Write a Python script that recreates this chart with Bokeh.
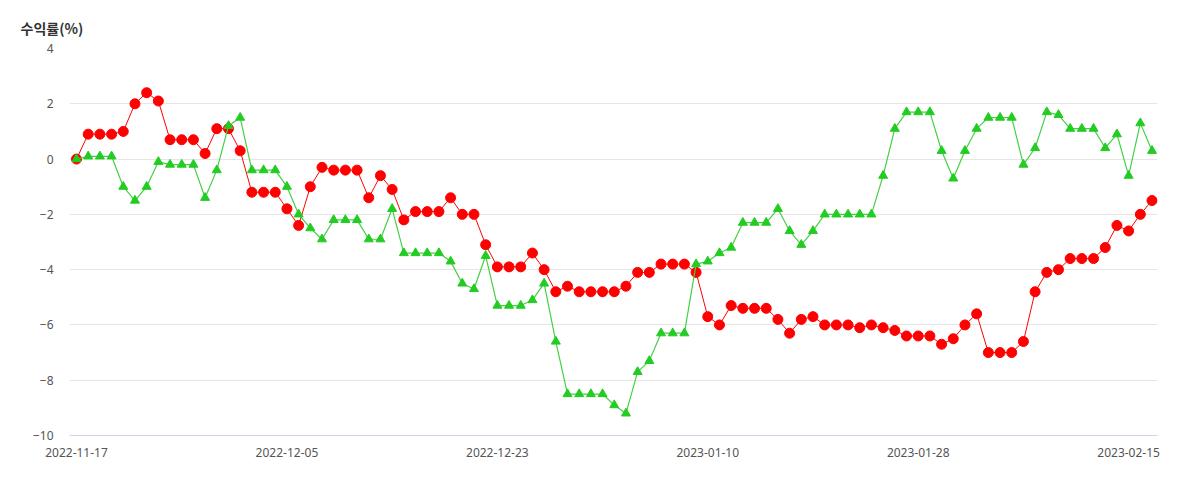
import pandas as pd
from bokeh.plotting import figure
from bokeh.models import Range1d, FixedTicker, DatetimeTickFormatter
from bokeh.embed import file_html
from bokeh.resources import INLINE

start_date = "2022-11-17"
n_days = 93
dates = pd.date_range(start_date, periods=n_days, freq="D")

red_values = [
    0.0, 0.9, 0.9, 0.9, 1.0, 2.0, 2.4, 2.1, 0.7, 0.7,
    0.7, 0.2, 1.1, 1.1, 0.3, -1.2, -1.2, -1.2, -1.8, -2.4,
    -1.0, -0.3, -0.4, -0.4, -0.4, -1.4, -0.6, -1.1, -2.2, -1.9,
    -1.9, -1.9, -1.4, -2.0, -2.0, -3.1, -3.9, -3.9, -3.9, -3.4,
    -4.0, -4.8, -4.6, -4.8, -4.8, -4.8, -4.8, -4.6, -4.1, -4.1,
    -3.8, -3.8, -3.8, -4.1, -5.7, -6.0, -5.3, -5.4, -5.4, -5.4,
    -5.8, -6.3, -5.8, -5.7, -6.0, -6.0, -6.0, -6.1, -6.0, -6.1,
    -6.2, -6.4, -6.4, -6.4, -6.7, -6.5, -6.0, -5.6, -7.0, -7.0,
    -7.0, -6.6, -4.8, -4.1, -4.0, -3.6, -3.6, -3.6, -3.2, -2.4,
    -2.6, -2.0, -1.5,
]

green_values = [
    0.0, 0.1, 0.1, 0.1, -1.0, -1.5, -1.0, -0.1, -0.2, -0.2,
    -0.2, -1.4, -0.4, 1.2, 1.5, -0.4, -0.4, -0.4, -1.0, -2.0,
    -2.5, -2.9, -2.2, -2.2, -2.2, -2.9, -2.9, -1.8, -3.4, -3.4,
    -3.4, -3.4, -3.7, -4.5, -4.7, -3.5, -5.3, -5.3, -5.3, -5.1,
    -4.5, -6.6, -8.5, -8.5, -8.5, -8.5, -8.9, -9.2, -7.7, -7.3,
    -6.3, -6.3, -6.3, -3.8, -3.7, -3.4, -3.2, -2.3, -2.3, -2.3,
    -1.8, -2.6, -3.1, -2.6, -2.0, -2.0, -2.0, -2.0, -2.0, -0.6,
    1.1, 1.7, 1.7, 1.7, 0.3, -0.7, 0.3, 1.1, 1.5, 1.5,
    1.5, -0.2, 0.4, 1.7, 1.6, 1.1, 1.1, 1.1, 0.4, 0.9,
    -0.6, 1.3, 0.3,
]

x_tick_labels = ["2022-11-17", "2022-12-05", "2022-12-23",
                 "2023-01-10", "2023-01-28", "2023-02-15"]
y_ticks = [4, 2, 0, -2, -4, -6, -8, -10]
y_title = "수익률(%)"

day = pd.Timedelta(days=1)
x_start = dates[0] - 0.6 * day
x_end = dates[-1] + 0.47 * day

p = figure(
    x_axis_type="datetime",
    frame_width=1088, frame_height=387,
    min_border_left=69, min_border_top=48,
    min_border_right=27, min_border_bottom=40,
    x_range=Range1d(x_start, x_end),
    y_range=Range1d(-10, 4),
    output_backend="svg", toolbar_location=None,
    background_fill_color="white", border_fill_color="white",
)
p.outline_line_color = None

red = "#ff0000"
green_m = "#22cc22"
green_l = "#44d044"

p.line(dates, red_values, line_color=red, line_width=1)
p.scatter(dates, red_values, marker="circle", size=10,
          fill_color=red, line_color=red)
p.line(dates, green_values, line_color=green_l, line_width=1.2)
p.scatter(dates, green_values, marker="triangle", size=9,
          fill_color=green_m, line_color=green_m)

# axes
p.xaxis.ticker = FixedTicker(ticks=[pd.Timestamp(d).value / 1e6 for d in x_tick_labels])
p.xaxis.formatter = DatetimeTickFormatter(days="%Y-%m-%d", months="%Y-%m-%d", years="%Y-%m-%d")
p.xaxis.axis_line_color = "#ccd6eb"
p.xaxis.major_tick_line_color = None
p.xaxis.minor_tick_line_color = None
p.xaxis.major_label_standoff = 6
p.xaxis.major_label_text_font = "Noto Sans"
p.xaxis.major_label_text_font_size = "12px"
p.xaxis.major_label_text_color = "#555555"

p.yaxis.ticker = FixedTicker(ticks=y_ticks)
p.yaxis.axis_line_color = None
p.yaxis.major_tick_line_color = None
p.yaxis.minor_tick_line_color = None
p.yaxis.major_label_standoff = 10
p.yaxis.major_label_text_font = "Noto Sans"
p.yaxis.major_label_text_font_size = "12px"
p.yaxis.major_label_text_color = "#555555"

p.xgrid.grid_line_color = None
p.ygrid.grid_line_color = "#e6e6e6"
p.ygrid.grid_line_width = 1

p.title.text = y_title
p.title.align = "left"
p.title.offset = -49
p.title.standoff = 22
p.title.text_font = "Noto Sans CJK KR"
p.title.text_font_size = "14px"
p.title.text_font_style = "bold"
p.title.text_color = "#333333"

open("out.html", "w").write(file_html(p, INLINE))
